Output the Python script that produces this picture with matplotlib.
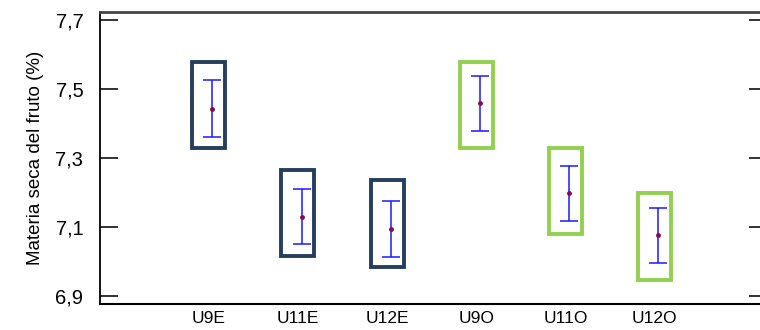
import matplotlib
matplotlib.use("Agg")
import matplotlib.pyplot as plt
from matplotlib.patches import Rectangle

# datos
grupos = ['U9E', 'U11E', 'U12E', 'U9O', 'U11O', 'U12O']
medias = [7.443, 7.129, 7.095, 7.461, 7.199, 7.075]
err_inf = [7.362, 7.049, 7.013, 7.378, 7.117, 6.994]
err_sup = [7.526, 7.210, 7.176, 7.538, 7.278, 7.154]
caja_inf = [7.328, 7.015, 6.984, 7.328, 7.078, 6.946]
caja_sup = [7.580, 7.265, 7.236, 7.580, 7.330, 7.197]
yticks = [6.9, 7.1, 7.3, 7.5, 7.7]
yticklabels = ['6,9', '7,1', '7,3', '7,5', '7,7']

plt.rcParams['font.family'] = ['Liberation Sans', 'DejaVu Sans']

fig = plt.figure(figsize=(7.6, 3.3), dpi=100)
ax = fig.add_axes([100 / 760, 26 / 330, 667 / 760, 292 / 330])

x = list(range(1, len(grupos) + 1))
colores = ['#263f5e'] * 3 + ['#92d050'] * 3
ancho = 0.37

for xi, lo, hi, c in zip(x, caja_inf, caja_sup, colores):
    ax.add_patch(Rectangle((xi - ancho / 2, lo), ancho, hi - lo,
                           fill=False, edgecolor=c, linewidth=2.8))

xe = [xi + 0.04 for xi in x]
yerr = [[m - lo for m, lo in zip(medias, err_inf)],
        [hi - m for m, hi in zip(medias, err_sup)]]
ax.errorbar(xe, medias, yerr=yerr, fmt='none', ecolor='#1a1aff',
            elinewidth=1.1, capsize=6.8, capthick=1.1)
ax.plot(xe, medias, 'o', color='#8a0a4a', markersize=2.5, linestyle='none')

ax.set_xlim(-0.22, 7.26)
ax.set_ylim(6.876, 7.724)
ax.set_xticks(x)
ax.set_xticklabels(grupos, fontsize=12.5)
ax.set_yticks(yticks)
ax.set_yticklabels(yticklabels, fontsize=14.5)
ax.tick_params(axis='x', length=0, pad=5)
ax.tick_params(axis='y', direction='in', length=13, width=1.3, pad=12,
               right=True, color='#222222')
ax.set_ylabel('Materia seca del fruto (%)', fontsize=13.5, labelpad=8)

ax.spines['top'].set_color('#444444')
ax.spines['top'].set_linewidth(2)
ax.spines['bottom'].set_linewidth(1.5)
ax.spines['left'].set_linewidth(1.3)
ax.spines['right'].set_visible(False)

fig.savefig('out.png', dpi=100)
